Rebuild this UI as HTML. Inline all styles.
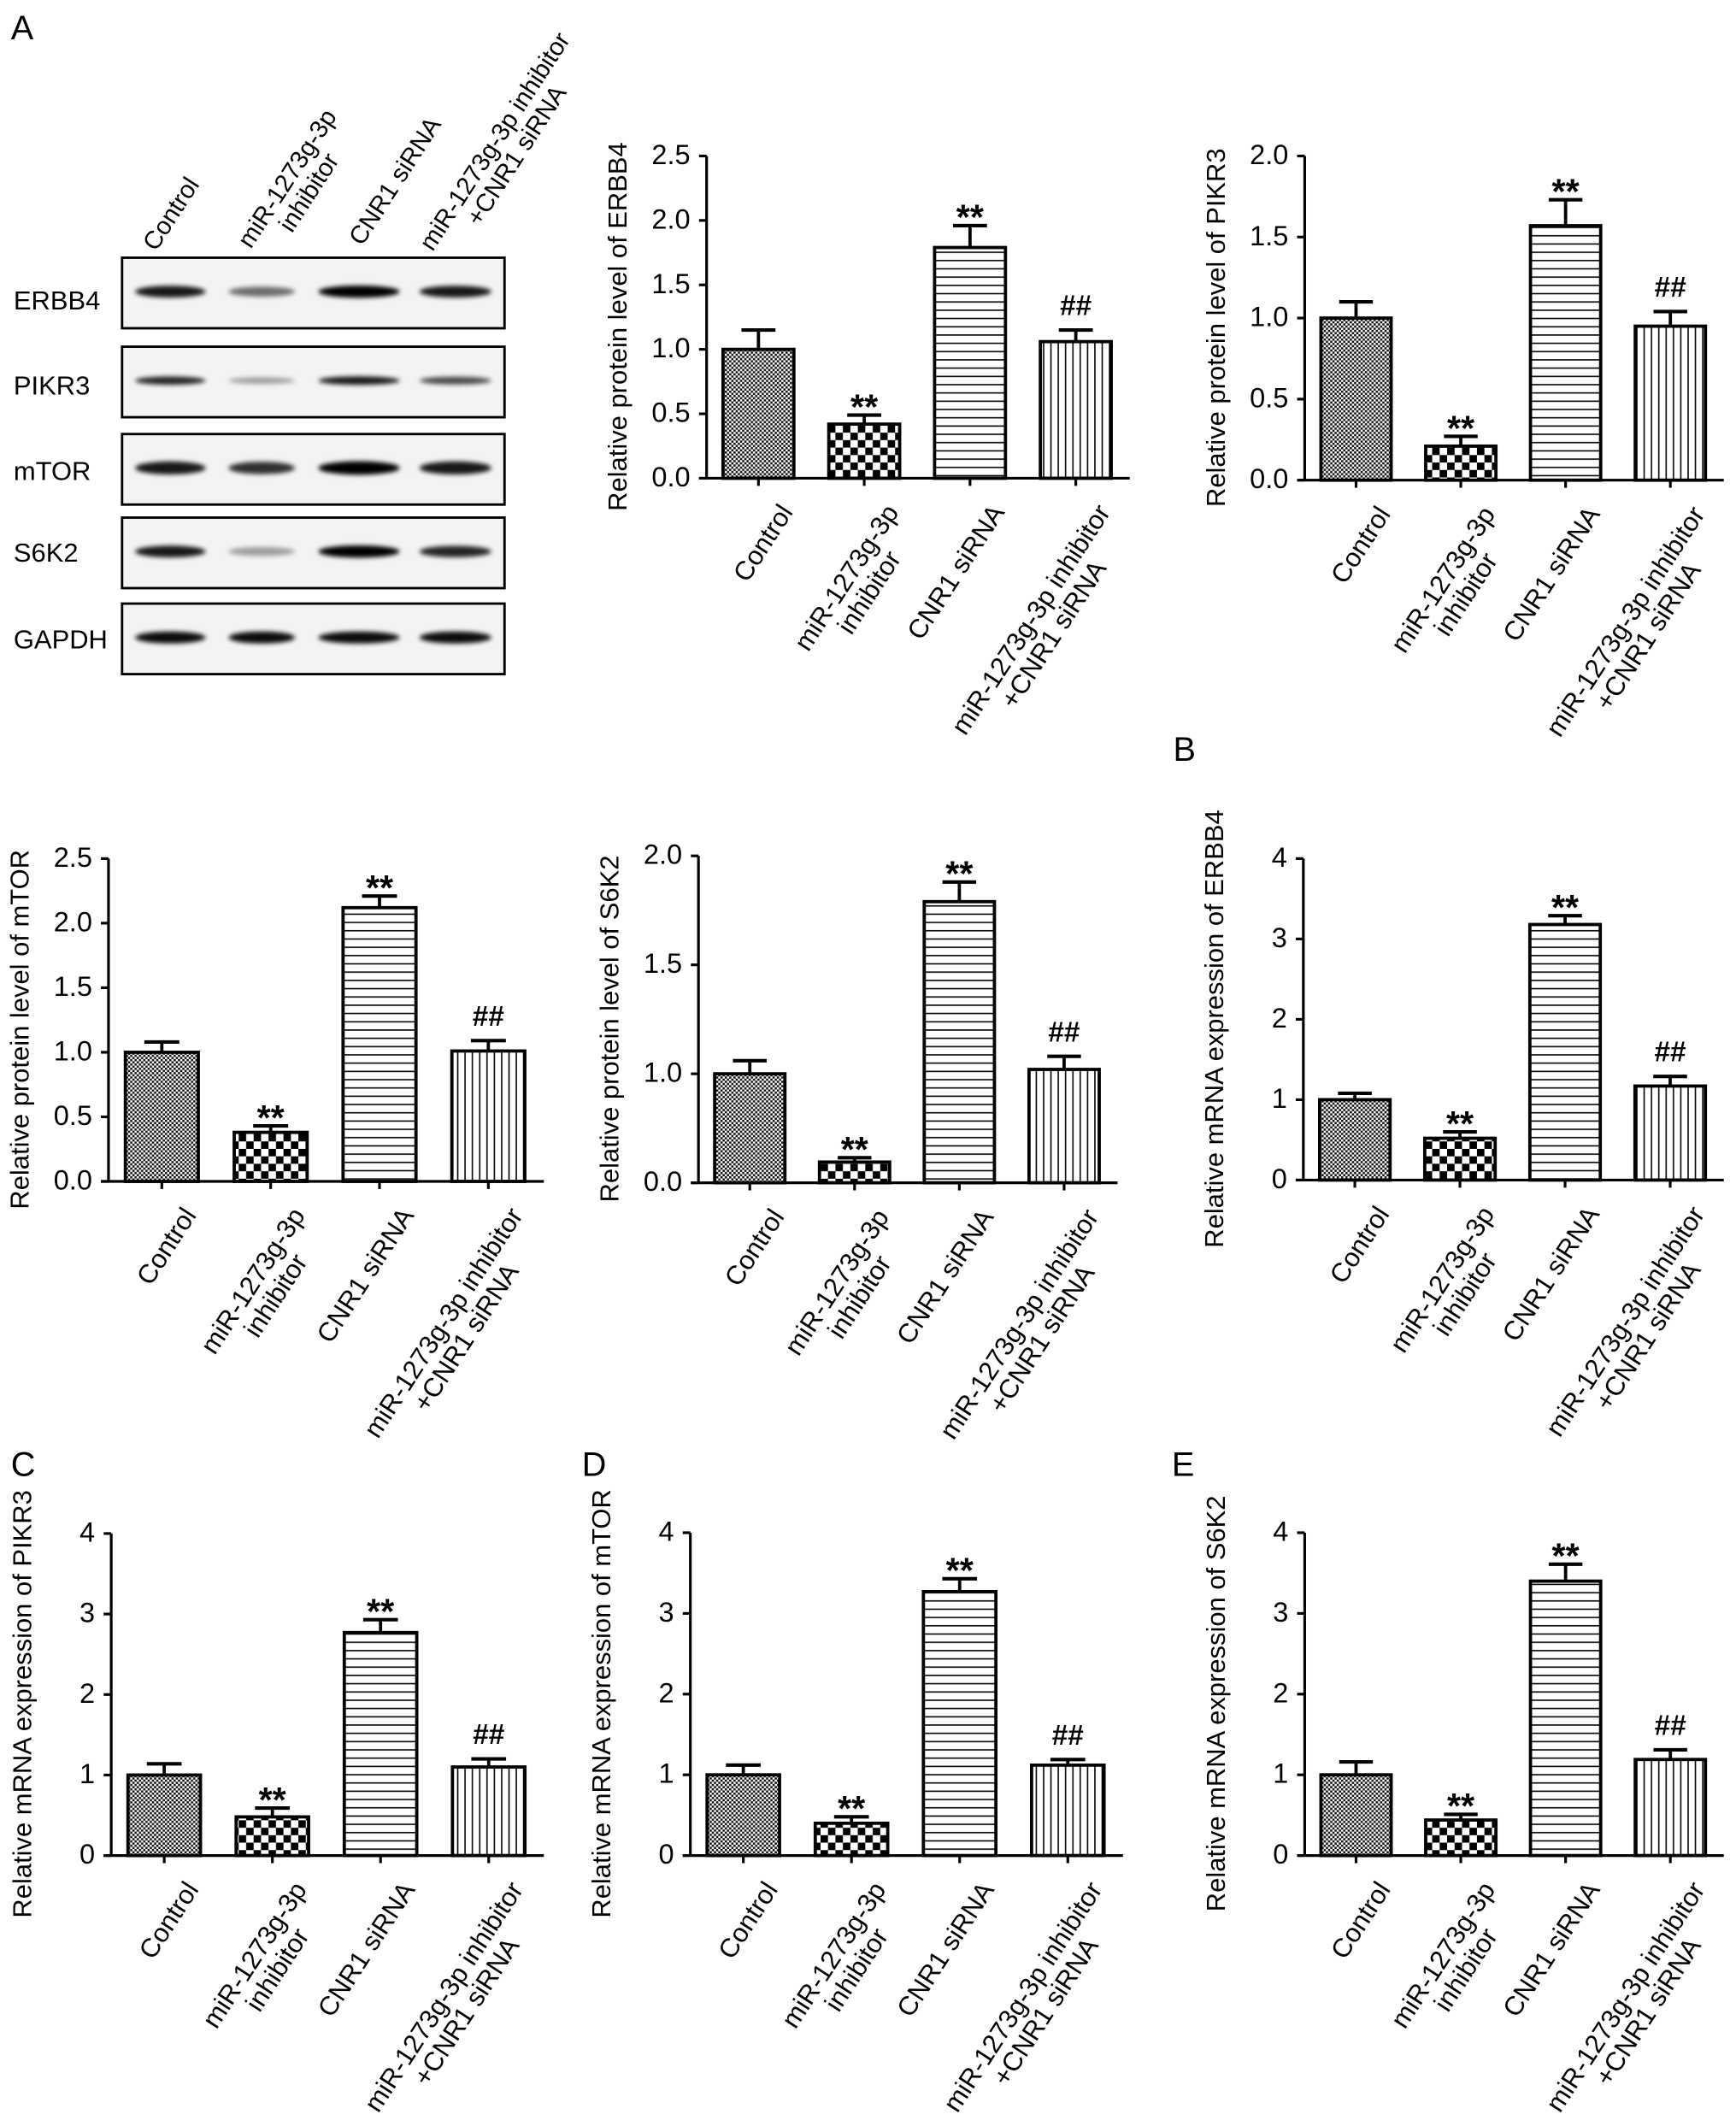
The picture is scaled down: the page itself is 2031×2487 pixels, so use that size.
<!DOCTYPE html>
<html><head><meta charset="utf-8"><title>ERBB4 / PIKR3 / mTOR / S6K2 expression</title>
<style>
html,body{margin:0;padding:0;background:#fff;}
svg{display:block;font-family:"Liberation Sans",Arial,sans-serif;}
</style></head>
<body>
<svg id="fig" xmlns="http://www.w3.org/2000/svg" width="2031" height="2487" viewBox="0 0 1280 1567.4">
<defs>
  <pattern id="pat-fine" patternUnits="userSpaceOnUse" width="3.2" height="3.2">
    <rect width="3.2" height="3.2" fill="#fff"/><rect width="1.6" height="1.6" fill="#111"/><rect x="1.6" y="1.6" width="1.6" height="1.6" fill="#111"/>
  </pattern>
  <pattern id="pat-coarse" patternUnits="userSpaceOnUse" width="11" height="11">
    <rect width="11" height="11" fill="#fff"/><rect width="5.5" height="5.5" fill="#000"/><rect x="5.5" y="5.5" width="5.5" height="5.5" fill="#000"/>
  </pattern>
  <pattern id="pat-h" patternUnits="userSpaceOnUse" width="6" height="6.1">
    <rect width="6" height="6.1" fill="#fff"/><line x1="0" y1="3" x2="6" y2="3" stroke="#000" stroke-width="1"/>
  </pattern>
  <pattern id="pat-v" patternUnits="userSpaceOnUse" width="5.4" height="6">
    <rect width="5.4" height="6" fill="#fff"/><line x1="2.7" y1="0" x2="2.7" y2="6" stroke="#000" stroke-width="1"/>
  </pattern>
  <filter id="blur" x="-30%" y="-100%" width="160%" height="300%"><feGaussianBlur stdDeviation="1.6"/></filter>
</defs>
<rect width="1280" height="1567.4" fill="#fff"/>
<text x="8" y="29" font-size="25">A</text>
<text x="865" y="561" font-size="25">B</text>
<text x="8" y="1088" font-size="25">C</text>
<text x="429" y="1088" font-size="25">D</text>
<text x="864" y="1088" font-size="25">E</text>
<g id="blot"></g>
<g id="charts"></g>
</svg>
<script>
// ---- shared data ----
const categoryLines = [["Control"],["miR-1273g-3p","inhibitor"],["CNR1 siRNA"],["miR-1273g-3p inhibitor","+CNR1 siRNA"]];
const significance = ["", "**", "**", "##"];

// protein ERBB4
const erbb4ProtMean = [1.00, 0.42, 1.79, 1.06];
const erbb4ProtErr  = [0.15, 0.07, 0.17, 0.09];
const erbb4ProtTicks = [0, 0.5, 1.0, 1.5, 2.0, 2.5];
const erbb4ProtTickLabels = ["0.0","0.5","1.0","1.5","2.0","2.5"];
// protein PIKR3
const pikr3ProtMean = [1.00, 0.21, 1.57, 0.95];
const pikr3ProtErr  = [0.10, 0.06, 0.16, 0.09];
const pikr3ProtTicks = [0, 0.5, 1.0, 1.5, 2.0];
const pikr3ProtTickLabels = ["0.0","0.5","1.0","1.5","2.0"];
// protein mTOR
const mtorProtMean = [1.00, 0.38, 2.12, 1.01];
const mtorProtErr  = [0.08, 0.05, 0.09, 0.08];
const mtorProtTicks = [0, 0.5, 1.0, 1.5, 2.0, 2.5];
const mtorProtTickLabels = ["0.0","0.5","1.0","1.5","2.0","2.5"];
// protein S6K2 (axis with 0.0, 1.0, 1.5, 2.0 equally spaced)
const s6k2ProtMean = [1.00, 0.19, 1.79, 1.02];
const s6k2ProtErr  = [0.06, 0.04, 0.09, 0.06];
const s6k2ProtTicks = [0, 1.0, 1.5, 2.0];
const s6k2ProtTickLabels = ["0.0","1.0","1.5","2.0"];
// mRNA ERBB4
const erbb4MrnaMean = [1.00, 0.52, 3.18, 1.17];
const erbb4MrnaErr  = [0.08, 0.08, 0.11, 0.12];
// mRNA PIKR3
const pikr3MrnaMean = [1.00, 0.48, 2.77, 1.10];
const pikr3MrnaErr  = [0.14, 0.11, 0.16, 0.10];
// mRNA mTOR
const mtorMrnaMean = [1.00, 0.40, 3.27, 1.12];
const mtorMrnaErr  = [0.12, 0.08, 0.16, 0.07];
// mRNA S6K2
const s6k2MrnaMean = [1.00, 0.44, 3.40, 1.19];
const s6k2MrnaErr  = [0.16, 0.07, 0.21, 0.12];
const mrnaTicks = [0, 1, 2, 3, 4];
const mrnaTickLabels = ["0","1","2","3","4"];

// western blot band intensities (0..1)
const blotProteins = ["ERBB4","PIKR3","mTOR","S6K2","GAPDH"];
const bandErbb4 = [0.90, 0.55, 1.00, 0.90];
const bandPikr3 = [0.85, 0.35, 0.90, 0.70];
const bandMtor  = [0.90, 0.80, 1.00, 0.90];
const bandS6k2  = [0.90, 0.35, 1.00, 0.85];
const bandGapdh = [0.95, 0.95, 0.95, 0.95];

const NS = "http://www.w3.org/2000/svg";
function mk(tag, attrs, parent){ const e=document.createElementNS(NS,tag); for(const k in attrs) e.setAttribute(k, attrs[k]); parent.appendChild(e); return e; }
const patterns = ["url(#pat-fine)","url(#pat-coarse)","url(#pat-h)","url(#pat-v)"];

// ---------- western blot ----------
const blot = document.getElementById("blot");
const bandSets = [bandErbb4, bandPikr3, bandMtor, bandS6k2, bandGapdh];
const boxTops = [190, 255.6, 320, 381.6, 445];
const labelBase = [228, 291, 354, 414, 478];
const laneX = [125.6, 193, 264.7, 335.8];
const laneW = [52, 49, 60, 53];
const bandThick = [9, 6.5, 10, 9, 9];
blotProteins.forEach((p, r) => {
  const lab = mk("text", {x:10, y:labelBase[r], "font-size":19.5}, blot);
  lab.textContent = p;
  
  
  const box = mk("rect", {x:90, y:boxTops[r], width:282, height:52, fill:"#f3f3f3", stroke:"#000", "stroke-width":1.8}, blot);
  
  
  bandSets[r].forEach((v, i) => {
    const b = mk("ellipse", {cx:laneX[i], cy:boxTops[r]+25, rx:laneW[i]/2, ry:bandThick[r]/2*(0.6+0.4*v), fill:"#000", opacity:v, filter:"url(#blur)"}, blot);
    
    
  });
});
const blotLabelPts = [[115,186],[185,184],[267,182],[319,186]];
categoryLines.forEach((lines, i) => {
  const g = mk("g", {transform:`translate(${blotLabelPts[i][0]},${blotLabelPts[i][1]}) rotate(-57)`}, blot);
  
  
  const t1 = mk("text", {x:0, y:0, "font-size":18.5}, g);
  t1.textContent = lines[0];
  if (lines[1]) {
    const w1 = t1.getComputedTextLength();
    const t2 = mk("text", {x:w1/2, y:19, "font-size":18.5, "text-anchor":"middle"}, g);
    t2.textContent = lines[1];
  }
});

// ---------- bar charts ----------
const charts = document.getElementById("charts");
const panels = [
  {name:"erbb4-protein-chart", x0:521, x1:833, yTop:115, y0:352.6, title:"Relative protein level of ERBB4", mean:erbb4ProtMean, err:erbb4ProtErr, ticks:erbb4ProtTicks, tickLabels:erbb4ProtTickLabels},
  {name:"pikr3-protein-chart", x0:962, x1:1271, yTop:115, y0:354, title:"Relative protein level of PIKR3", mean:pikr3ProtMean, err:pikr3ProtErr, ticks:pikr3ProtTicks, tickLabels:pikr3ProtTickLabels},
  {name:"mtor-protein-chart", x0:80, x1:401, yTop:633, y0:871, title:"Relative protein level of mTOR", mean:mtorProtMean, err:mtorProtErr, ticks:mtorProtTicks, tickLabels:mtorProtTickLabels},
  {name:"s6k2-protein-chart", x0:515, x1:824, yTop:631, y0:872, title:"Relative protein level of S6K2", mean:s6k2ProtMean, err:s6k2ProtErr, ticks:s6k2ProtTicks, tickLabels:s6k2ProtTickLabels},
  {name:"erbb4-mrna-chart", x0:961, x1:1271, yTop:633, y0:870, title:"Relative mRNA expression of ERBB4", mean:erbb4MrnaMean, err:erbb4MrnaErr, ticks:mrnaTicks, tickLabels:mrnaTickLabels},
  {name:"pikr3-mrna-chart", x0:82, x1:401, yTop:1130.6, y0:1368, title:"Relative mRNA expression of PIKR3", mean:pikr3MrnaMean, err:pikr3MrnaErr, ticks:mrnaTicks, tickLabels:mrnaTickLabels},
  {name:"mtor-mrna-chart", x0:509, x1:828, yTop:1130, y0:1368, title:"Relative mRNA expression of mTOR", mean:mtorMrnaMean, err:mtorMrnaErr, ticks:mrnaTicks, tickLabels:mrnaTickLabels},
  {name:"s6k2-mrna-chart", x0:962, x1:1271, yTop:1130, y0:1368, title:"Relative mRNA expression of S6K2", mean:s6k2MrnaMean, err:s6k2MrnaErr, ticks:mrnaTicks, tickLabels:mrnaTickLabels}
];

function makeYScale(p){
  const n = p.ticks.length - 1;
  return function(v){
    let i = 0;
    while (i < n - 1 && v > p.ticks[i+1]) i++;
    const f = (v - p.ticks[i]) / (p.ticks[i+1] - p.ticks[i]);
    const pos = (i + f) / n;
    return p.y0 - pos * (p.y0 - p.yTop);
  };
}

panels.forEach(p => {
  const g = mk("g", {}, charts);
  
  
  const y = makeYScale(p);
  const slot = (p.x1 - p.x0) / categoryLines.length;
  const xBar = i => p.x0 + slot*i + slot*0.155;
  const bw = slot*0.67;
  const xc = i => xBar(i) + bw/2;

  p.mean.forEach((m, i) => {
    const top = y(m);
    const up = y(m + p.err[i]);
    const cap = bw*0.24;
    const el = mk("line", {x1:xc(i), y1:top, x2:xc(i), y2:up, stroke:"#000", "stroke-width":2.4}, g);
    
    
    const ec = mk("line", {x1:xc(i)-cap, y1:up, x2:xc(i)+cap, y2:up, stroke:"#000", "stroke-width":2.6}, g);
    
    
    const r = mk("rect", {x:xBar(i), y:top, width:bw, height:p.y0-top, fill:patterns[i], stroke:"#000", "stroke-width":2.4}, g);
    
    
    if (significance[i]) {
      const isHash = significance[i] === "##";
      const s = mk("text", {x:xc(i), y: isHash ? up-11 : up+3, "font-size": isHash ? 21 : 26, "font-weight":"bold", "text-anchor":"middle"}, g);
      s.textContent = significance[i];
      
      
    }
  });

  const ya = mk("line", {x1:p.x0, y1:p.yTop, x2:p.x0, y2:p.y0, stroke:"#000", "stroke-width":2}, g);
  
  
  const xa = mk("line", {x1:p.x0-5.6, y1:p.y0, x2:p.x1, y2:p.y0, stroke:"#000", "stroke-width":2}, g);
  
  
  p.ticks.forEach((t, k) => {
    const ty = y(t);
    const tk = mk("line", {x1:p.x0-5.6, y1:ty, x2:p.x0, y2:ty, stroke:"#000", "stroke-width":2}, g);
    
    
    const tl = mk("text", {x:p.x0-12, y:ty+6, "font-size":20.5, "text-anchor":"end"}, g);
    tl.textContent = p.tickLabels[k];
    
    
  });
  const cy = (p.yTop + p.y0)/2 + 7;
  const tt = mk("text", {x:0, y:0, "font-size":19.5, "text-anchor":"middle", transform:`translate(${p.x0-59},${cy}) rotate(-90)`}, g);
  tt.textContent = p.title;
  
  
  categoryLines.forEach((lines, i) => {
    const xt = mk("line", {x1:xc(i), y1:p.y0, x2:xc(i), y2:p.y0+5.6, stroke:"#000", "stroke-width":2}, g);
    
    
    const lg = mk("g", {transform:`translate(${xc(i)+26},${p.y0+25}) rotate(-57)`}, g);
    
    
    const t1 = mk("text", {x:0, y:0, "font-size":19.5, "text-anchor":"end"}, lg);
    t1.textContent = lines[0];
    if (lines[1]) {
      const w1 = t1.getComputedTextLength();
      const t2 = mk("text", {x:-w1/2, y:20, "font-size":19.5, "text-anchor":"middle"}, lg);
      t2.textContent = lines[1];
    }
  });
});
</script>
</body></html>
